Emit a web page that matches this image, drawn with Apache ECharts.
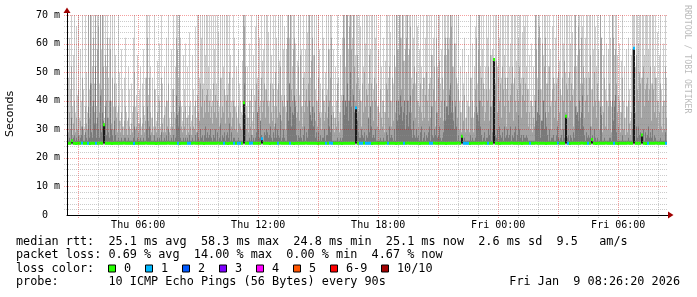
<!DOCTYPE html>
<html><head><meta charset="utf-8">
<script src="https://cdn.jsdelivr.net/npm/echarts@6/dist/echarts.min.js"></script>
<style>html,body{margin:0;padding:0;background:#fff}#c{width:697px;height:297px}</style>
</head><body><div id="c"></div>
<script>
// time window (hours since Thu 00:00)
const startHour = 2.44;
const endHour = 32.44;
const smokeStep = 0.05;  // smoke sample = 3 min
const medianStep = 0.1;  // median sample = 6 min
const smokeMin = 24.8;

// smoke: top of light band (outer pings), ms
const smokeHi = [
70,48,62,44,70,38,56,70,36,66,42,70,34,58,40,70,44,31,70,50,
36,70,44,70,70,52,70,46,70,38,70,70,46,70,58,70,70,34,70,52,
70,48,62,70,40,70,38,70,56,46,36,70,50,33,58,44,31,48,62,36,
33,52,44,30,46,36,62,70,38,42,56,32,44,52,31,46,58,35,48,70,
70,42,70,52,34,48,31,70,44,33,54,42,60,31,70,46,34,52,38,62,
40,70,34,31,58,44,70,36,52,70,70,48,70,62,38,33,56,44,60,34,
52,35,64,40,33,56,44,38,66,34,70,70,48,70,62,70,46,70,56,70,
70,52,70,44,70,40,70,58,70,46,70,64,38,70,48,70,52,70,42,70,
70,46,70,56,40,48,70,62,38,52,34,58,46,40,36,54,70,70,70,38,
52,34,60,40,70,33,56,42,66,70,48,70,62,40,70,54,58,70,44,70,
70,64,40,70,56,46,70,38,70,62,44,70,54,70,42,70,58,66,38,58,
70,70,62,70,70,52,70,70,60,44,54,70,42,70,58,38,70,50,58,70,
64,70,70,48,70,70,56,70,44,70,40,70,58,46,36,70,62,40,50,70,
44,70,58,70,70,38,58,34,52,40,70,48,36,56,42,62,70,70,52,70,
70,58,70,70,70,62,70,70,56,70,70,48,70,66,40,70,52,70,60,70,
70,46,70,58,70,70,44,70,62,70,38,58,36,70,52,40,62,36,54,70,
70,48,70,64,40,70,46,70,52,70,70,58,70,70,62,70,70,54,70,70,
70,56,70,70,48,70,62,70,46,70,66,40,58,70,52,44,70,48,62,70,
70,44,70,48,70,56,62,70,40,70,52,70,70,46,58,70,44,70,70,56,
70,70,62,70,70,70,52,70,60,70,46,70,40,52,36,58,46,62,34,50,
40,56,38,70,48,60,34,52,66,70,46,70,70,52,70,58,70,44,52,70,
62,70,44,70,56,58,70,46,70,70,52,70,62,70,48,70,70,56,70,44,
70,70,52,60,70,70,46,70,70,54,70,62,70,70,48,64,70,66,70,52,
70,44,56,40,60,38,52,42,70,70,48,70,70,62,44,70,56,70,70,46,
70,52,70,58,40,66,70,46,62,70,48,70,54,70,42,70,60,70,50,70,
70,48,70,60,70,64,44,70,70,52,56,70,70,46,70,66,70,48,62,70,
70,50,70,70,44,70,58,70,66,52,70,58,40,70,62,38,56,70,44,60,
40,58,70,62,38,70,70,56,70,70,56,42,60,36,54,70,40,52,34,58,
38,62,44,33,56,70,70,70,52,70,70,60,70,70,48,70,70,56,70,70,
70,58,70,70,46,70,70,52,70,48,64,40,56,70,44,38,60,40,70,48];

// smoke: top of medium band, ms
const smokeMid = [
31,29,36,30,52,28,32,40,29,34,30,44,28,33,31,48,30,28,38,32,
30,70,34,70,46,38,62,36,70,32,58,66,36,70,44,70,52,30,56,40,
62,34,40,58,32,48,30,46,38,34,29,38,33,29,36,31,28,33,38,30,
28,34,31,28,32,29,38,50,30,31,36,29,32,34,28,32,38,29,33,48,
62,33,48,36,29,34,28,44,31,29,36,30,40,28,48,32,29,35,29,40,
31,46,29,28,36,31,44,30,34,62,58,36,70,40,31,29,36,31,38,28,
34,29,38,31,28,35,31,30,40,29,42,36,33,46,38,44,34,40,36,42,
44,36,40,34,38,32,46,36,42,34,40,36,31,48,34,38,36,44,32,40,
42,34,50,36,31,34,40,38,30,36,29,38,32,31,30,35,70,66,52,30,
34,29,40,31,44,28,36,30,40,46,36,44,38,33,48,36,40,46,34,44,
40,38,32,46,36,33,44,31,50,38,34,46,36,52,33,40,38,42,30,36,
62,70,46,70,44,40,58,62,40,34,36,52,33,56,38,31,48,36,40,44,
38,46,70,36,54,62,38,56,33,40,31,48,36,34,30,44,40,33,36,42,
34,58,40,48,62,30,36,29,34,31,46,33,29,36,30,40,70,62,40,70,
70,40,66,70,58,44,70,52,40,46,56,36,44,40,31,46,36,50,38,44,
42,34,56,38,46,40,33,48,40,46,31,38,30,44,34,31,40,29,36,46,
44,34,52,40,31,48,33,56,36,70,58,40,70,62,44,70,54,40,58,62,
70,40,58,66,36,44,46,52,34,50,40,31,38,46,36,33,48,34,42,50,
40,33,46,34,56,38,44,52,31,62,36,48,54,34,40,48,33,56,62,38,
62,58,44,70,66,52,36,60,40,48,34,44,30,36,29,40,33,42,29,34,
30,38,29,48,34,40,29,36,44,62,36,58,70,40,48,38,46,33,36,44,
40,52,33,56,38,40,48,34,46,54,36,48,40,46,34,52,44,38,48,31,
48,40,36,42,46,52,33,48,40,36,44,40,52,46,34,42,48,40,46,36,
44,31,36,30,40,29,34,31,70,58,36,62,66,44,33,60,40,52,62,34,
46,36,52,38,30,44,48,34,40,46,33,50,36,44,30,48,40,54,36,46,
44,34,50,40,46,42,31,52,70,38,36,66,58,34,62,46,52,34,40,48,
42,36,48,56,31,44,38,50,40,34,46,40,30,70,62,29,36,48,31,40,
30,38,46,40,29,70,62,40,58,46,36,31,40,29,36,48,30,34,28,38,
29,40,32,28,36,58,46,52,36,56,44,40,50,46,34,48,52,38,44,46,
48,40,44,52,33,46,44,36,48,34,40,30,36,46,31,29,40,30,52,34];

// smoke: top of dark band (inner pings), ms
const smokeLo = [
26,26,27,26,34,26,27,28,26,27,26,28,26,27,28,31,26,26,29,27,
26,38,27,46,29,27,40,32,52,27,34,30,27,42,29,36,33,27,38,28,
34,29,27,40,30,28,26,33,28,26,26,27,26,26,27,26,26,27,27,26,
26,27,26,26,26,26,27,31,26,26,27,26,26,27,26,26,27,26,26,30,
38,27,31,28,26,26,26,28,26,26,27,26,27,26,29,26,26,27,26,28,
26,30,26,26,27,26,28,26,27,42,35,31,38,27,26,26,27,26,27,26,
27,26,28,26,26,27,26,26,28,26,29,27,26,30,27,28,26,28,31,27,
29,27,28,30,27,26,28,27,30,26,29,26,27,32,26,28,27,29,26,28,
29,27,32,26,29,26,27,27,26,26,26,27,26,26,26,26,40,46,35,26,
26,26,27,26,28,26,27,26,27,29,36,30,27,33,28,27,26,29,28,30,
29,27,28,31,27,26,29,27,32,27,30,28,27,35,26,27,30,27,26,26,
40,33,46,38,31,36,35,42,38,28,26,28,27,30,27,26,28,31,26,29,
27,30,40,35,33,38,31,36,27,29,26,29,26,28,26,27,27,30,26,28,
28,38,31,29,35,26,26,26,26,26,27,26,26,27,26,27,42,35,44,38,
46,33,40,50,38,30,42,36,35,31,33,29,27,27,30,28,27,29,26,28,
27,35,29,38,31,27,28,27,30,26,26,26,26,27,26,26,27,26,26,29,
28,26,31,27,28,27,26,30,26,40,33,46,35,42,38,33,36,44,30,35,
40,31,36,42,30,27,33,28,27,30,27,28,26,29,31,26,27,29,26,28,
27,29,31,26,38,28,27,30,28,36,27,28,31,27,26,27,29,40,33,44,
38,35,42,46,36,40,33,30,38,31,26,28,26,26,26,26,26,27,26,26,
26,26,26,28,26,27,26,26,27,38,35,33,40,31,28,26,27,29,26,27,
27,30,28,38,26,29,27,31,28,27,30,26,31,28,27,29,26,31,27,28,
30,27,28,31,26,28,27,29,31,26,28,35,30,27,28,26,28,27,27,28,
27,26,26,26,26,26,26,26,40,33,36,44,35,27,38,33,42,30,36,31,
28,26,30,26,27,27,28,26,26,28,31,27,26,27,28,26,30,27,27,29,
27,28,26,28,27,26,29,27,38,35,44,33,40,30,36,42,31,28,26,29,
27,28,27,31,26,28,26,30,27,26,27,26,26,38,35,26,26,27,26,26,
26,26,27,27,26,40,33,38,42,29,26,26,26,26,26,28,26,26,26,26,
26,27,26,26,26,30,27,28,26,31,27,31,28,29,27,28,30,26,29,27,
28,31,27,29,27,30,26,28,27,26,26,26,26,27,26,26,26,26,29,26];

// median rtt per 6-min step, ms
const medianRtt = [
25.1,25.1,26.0,25.1,25.0,25.1,25.1,25.2,25.1,25.1, 25.1,25.0,25.1,25.1,25.1,25.1,25.2,25.1,31.6,25.1,
25.1,25.1,25.0,25.1,25.1,25.1,25.1,25.1,25.2,25.1, 25.1,25.1,25.1,25.0,25.1,25.1,25.1,25.1,25.1,25.2,
25.1,25.1,25.1,25.1,25.0,25.1,25.1,25.1,25.1,25.1, 25.2,25.1,25.1,25.1,25.1,25.1,25.0,25.1,25.1,25.1,
25.1,25.1,25.1,25.2,25.1,25.1,25.1,25.1,25.0,25.1, 25.1,25.1,25.1,25.1,25.1,25.2,25.1,25.1,25.1,25.1,
25.0,25.1,25.1,25.1,25.1,25.1,25.1,25.1,39.3,25.1, 25.1,25.1,25.2,25.1,25.1,25.1,25.1,26.7,25.1,25.1,
25.1,25.0,25.1,25.1,25.1,25.1,25.2,25.1,25.1,25.1, 25.1,25.1,25.1,25.0,25.1,25.1,25.1,25.1,25.1,25.2,
25.1,25.1,25.1,25.1,25.1,25.0,25.1,25.1,25.1,25.1, 25.1,25.2,25.1,25.1,25.1,25.1,25.1,25.0,25.1,25.1,
25.1,25.1,25.1,25.1,37.5,25.1,25.1,25.1,25.2,25.1, 25.1,25.1,25.0,25.1,25.1,25.1,25.1,25.1,25.1,25.2,
25.1,25.1,25.1,25.1,25.0,25.1,25.1,25.1,25.1,25.1, 25.2,25.1,25.1,25.1,25.1,25.1,25.0,25.1,25.1,25.1,
25.1,25.1,25.1,25.2,25.1,25.1,25.1,25.1,25.1,25.0, 25.1,25.1,25.1,25.1,25.1,25.2,25.1,27.6,25.1,25.1,
25.1,25.0,25.1,25.1,25.1,25.1,25.1,25.1,25.2,25.1, 25.1,25.1,25.1,54.4,25.1,25.1,25.0,25.1,25.1,25.1,
25.1,25.1,25.2,25.1,25.1,25.1,25.1,25.0,25.1,25.1, 25.1,25.1,25.1,25.1,25.2,25.1,25.1,25.1,25.1,25.0,
25.1,25.1,25.1,25.1,25.1,25.2,25.1,25.1,25.1,34.6, 25.1,25.0,25.1,25.1,25.1,25.1,25.1,25.2,25.1,25.1,
25.1,25.1,26.4,25.1,25.0,25.1,25.1,25.1,25.1,25.2, 25.1,25.1,25.1,25.1,25.1,25.0,25.1,25.1,25.1,25.1,
25.2,25.1,25.1,58.4,25.1,25.1,25.1,28.0,25.1,25.0, 25.1,25.1,25.1,25.1,25.2,25.1,25.1,25.1,25.1,25.1];

// lost pings (of 10) per 6-min step
const lossCount = [
0,0,0,0,0,0,0,1,0,0, 1,0,0,0,1,0,0,0,0,0, 0,0,0,0,0,0,0,0,0,0, 0,0,0,1,0,0,0,0,0,0,
0,0,0,0,0,0,0,0,0,0, 0,0,0,0,0,1,0,0,0,0, 1,1,0,0,0,0,0,0,0,0, 0,0,0,0,0,0,0,0,1,0,
0,0,0,1,0,1,1,0,0,0, 0,1,1,0,0,0,0,1,0,0, 0,0,0,0,0,1,0,0,0,0, 0,1,0,0,0,0,0,0,0,0,
0,0,0,0,0,0,0,0,0,1, 0,1,1,0,0,0,0,0,0,0, 0,0,0,0,1,0,1,1,0,1, 1,1,0,0,0,0,0,0,0,0,
1,0,0,0,0,0,0,0,1,0, 0,0,0,0,0,0,0,0,0,0, 0,1,1,0,0,0,0,0,0,0, 0,0,0,0,0,0,0,0,1,1,
1,0,0,0,0,0,0,0,0,0, 1,0,0,0,0,0,0,0,0,0, 0,0,0,0,0,0,0,0,0,0, 0,1,0,0,0,0,0,0,0,0,
0,0,0,0,0,1,0,0,0,0, 1,0,0,0,0,0,0,0,0,0, 1,0,0,0,0,0,0,0,0,0, 0,0,0,1,0,0,0,0,0,0,
0,0,0,1,0,0,0,0,0,0, 1,0,0,0,0,0,0,0,0,1];

const yTicks = [0,10,20,30,40,50,60,70];
const xLabelHours = [6,12,18,24,30];
const xLabelText = ['Thu 06:00','Thu 12:00','Thu 18:00','Fri 00:00','Fri 06:00'];
const lossColors = ['#26ff00','#00b8ff','#0059ff','#7e00ff','#ff00ff','#ff5500','#ff0000','#a10000'];
const lossLabels = ['0','1','2','3','4','5','6-9','10/10'];
const statsLine1 = 'median rtt:  25.1 ms avg  58.3 ms max  24.8 ms min  25.1 ms now  2.6 ms sd  9.5   am/s';
const statsLine2 = 'packet loss: 0.69 % avg  14.00 % max  0.00 % min  4.67 % now';
const probeLine = 'probe:       10 ICMP Echo Pings (56 Bytes) every 90s';
const dateLine = 'Fri Jan  9 08:26:20 2026';

const smokeData = smokeHi.map((h, i) => [startHour + (i + 0.5) * smokeStep, h, smokeMid[i], smokeLo[i]]);
const medianData = medianRtt.map((m, i) => [startHour + (i + 0.5) * medianStep, m, lossCount[i]]);

const gridX = []; for (let h = 3; h <= 32; h++) gridX.push(h);
const gridY = []; for (let v = 2; v <= 70; v += 2) gridY.push(v);
const gridData = gridX.map(h => [0, h]).concat(gridY.map(v => [1, v]));

function renderSmoke(params, api) {
  const t = api.value(0), hi = api.value(1), md = Math.min(api.value(2), hi), lo = Math.min(api.value(3), md);
  const xl = Math.round(api.coord([t - smokeStep / 2, 0])[0]);
  const xr = Math.round(api.coord([t + smokeStep / 2, 0])[0]);
  const w = xr - xl;
  const yb = api.coord([t, smokeMin])[1];
  const yOf = v => api.coord([t, v])[1];
  return {type:'group', children:[
    {type:'rect', shape:{x:xl, y:yOf(hi), width:w, height:yb - yOf(hi)}, style:{fill:'#cdcdcd'}},
    {type:'rect', shape:{x:xl, y:yOf(md), width:w, height:yb - yOf(md)}, style:{fill:'#a3a3a3'}},
    {type:'rect', shape:{x:xl, y:yOf(lo), width:w, height:yb - yOf(lo)}, style:{fill:'#7a7a7a'}}
  ]};
}

function renderMedian(params, api) {
  const t = api.value(0), med = api.value(1), loss = api.value(2);
  const xl = Math.round(api.coord([t - medianStep / 2, 0])[0]);
  const xr = Math.round(api.coord([t + medianStep / 2, 0])[0]);
  const w = xr - xl;
  const yOf = v => api.coord([t, v])[1];
  const ch = [];
  if (med > 25.9) {
    ch.push({type:'rect', shape:{x:xl, y:yOf(med), width:w, height:yOf(25.1) - yOf(med)}, style:{fill:'#1a1a1a'}});
  }
  ch.push({type:'rect', shape:{x:xl, y:yOf(med) - 1.5, width:w, height:3}, style:{fill:lossColors[loss]}});
  return {type:'group', children:ch};
}

function renderGrid(params, api) {
  const isX = api.value(0) === 0;
  const val = api.value(1);
  if (isX) {
    const x = Math.round(api.coord([val, 0])[0]) + 0.5;
    const y0 = api.coord([val, 0])[1] + 3;
    const y1 = api.coord([val, 70])[1];
    const major = val % 3 === 0;
    return {type:'line', shape:{x1:x, y1:y0, x2:x, y2:y1}, style:{stroke: major ? 'rgba(230,0,0,0.38)' : 'rgba(140,140,140,0.45)', lineWidth:1, lineDash:[1,1]}};
  }
  const y = Math.round(api.coord([startHour, val])[1]) + 0.5;
  const x0 = api.coord([startHour, val])[0] - 3;
  const x1 = api.coord([endHour, val])[0];
  const major = val % 10 === 0;
  return {type:'line', shape:{x1:x0, y1:y, x2:x1, y2:y}, style:{stroke: major ? 'rgba(230,0,0,0.38)' : 'rgba(140,140,140,0.45)', lineWidth:1, lineDash:[1,1]}};
}

const chart = echarts.init(document.getElementById('c'), null, {renderer:'canvas'});
const monoFont = '"DejaVu Sans Mono"';
const legendFont = '11.82px "DejaVu Sans Mono"';
const legendGraphics = [
  {type:'text', x:16, y:241.5, style:{text:statsLine1, font:legendFont, fill:'#000', verticalAlign:'middle'}},
  {type:'text', x:16, y:255, style:{text:statsLine2, font:legendFont, fill:'#000', verticalAlign:'middle'}},
  {type:'text', x:16, y:268.5, style:{text:'loss color:', font:legendFont, fill:'#000', verticalAlign:'middle'}},
  {type:'text', x:16, y:282, style:{text:probeLine, font:legendFont, fill:'#000', verticalAlign:'middle'}},
  {type:'text', x:680, y:282, style:{text:dateLine, font:legendFont, fill:'#000', align:'right', verticalAlign:'middle'}},
  {type:'text', x:10, y:114, rotation:Math.PI/2, style:{text:'Seconds', font:'11px "DejaVu Sans"', fill:'#000', align:'center', verticalAlign:'middle'}},
  {type:'text', x:687, y:5, rotation:-Math.PI/2, style:{text:'RRDTOOL / TOBI OETIKER', font:'8.2px "DejaVu Sans Mono"', fill:'#bbbbbb', align:'left', verticalAlign:'middle'}},
  {type:'polygon', shape:{points:[[63.5,13],[70.5,13],[67,7.5]]}, style:{fill:'#a00000'}},
  {type:'polygon', shape:{points:[[668,211.5],[668,218.5],[673.5,215]]}, style:{fill:'#a00000'}},
  {type:'line', shape:{x1:67.5, y1:13, x2:67.5, y2:15}, style:{stroke:'#000', lineWidth:1}},
  {type:'line', shape:{x1:667, y1:215.5, x2:668, y2:215.5}, style:{stroke:'#000', lineWidth:1}}
];
const boxX = [108.5,145.5,182.5,219.5,256.5,293.5,330.5,381.5];
lossLabels.forEach((lab, k) => {
  legendGraphics.push({type:'rect', shape:{x:boxX[k], y:265, width:7, height:7}, style:{fill:lossColors[k], stroke:'#000', lineWidth:1}});
  legendGraphics.push({type:'text', x:boxX[k] + 15.5, y:268.5, style:{text:lab, font:legendFont, fill:'#000', verticalAlign:'middle'}});
});

chart.setOption({
  animation:false,
  backgroundColor:'#ffffff',
  grid:{left:67, top:15, width:600, height:200, containLabel:false},
  xAxis:{type:'value', min:startHour, max:endHour, z:5,
    axisLine:{show:true, lineStyle:{color:'#000', width:1}},
    axisTick:{show:false},
    splitLine:{show:false},
    axisLabel:{customValues:xLabelHours, formatter:v => xLabelText[xLabelHours.indexOf(Math.round(v))] || '', fontFamily:monoFont, fontSize:10, color:'#000', margin:5}},
  yAxis:{type:'value', min:0, max:70, interval:10, z:5,
    axisLine:{show:true, lineStyle:{color:'#000', width:1}},
    axisTick:{show:false},
    splitLine:{show:false},
    axisLabel:{formatter:v => v === 0 ? '0  ' : v + ' m', fontFamily:monoFont, fontSize:10, color:'#000', margin:7}},
  series:[
    {type:'custom', name:'smoke', z:2, clip:true, renderItem:renderSmoke, data:smokeData, encode:{x:0, y:[1,2,3]}},
    {type:'custom', name:'median', z:3, clip:true, renderItem:renderMedian, data:medianData, encode:{x:0, y:1}},
    {type:'custom', name:'grid', z:4, clip:false, renderItem:renderGrid, data:gridData, encode:{x:1}}
  ],
  graphic:legendGraphics
});
</script></body></html>
